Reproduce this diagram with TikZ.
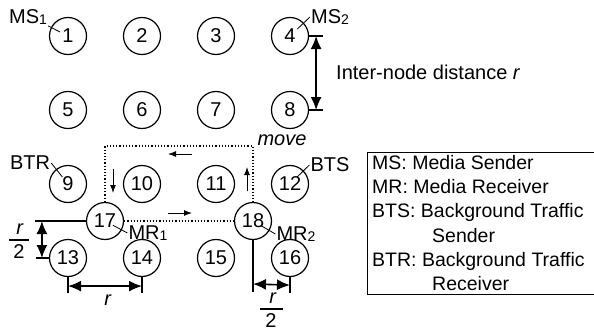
\documentclass[tikz,border=0pt]{standalone}
\usepackage{fontspec}
\setmainfont{Liberation Sans}
\usetikzlibrary{positioning,calc,arrows.meta}

\newcommand{\idx}[1]{\raisebox{-1.5pt}{\fontsize{14}{14}\selectfont #1}}

\tikzset{
  mnode/.style={draw, circle, line width=1.2pt, minimum size=37pt, inner sep=0pt, font=\fontsize{20}{22}\selectfont},
  tag/.style={inner sep=1pt, font=\fontsize{20}{22}\selectfont},
  leader/.style={line width=0.8pt},
  dimline/.style={line width=1.2pt},
  fracline/.style={line width=1.1pt},
  dimarrow/.style={line width=1.6pt, {Latex[length=13pt,width=11pt]}-{Latex[length=13pt,width=11pt]}},
  movearrow/.style={line width=1pt, -{Latex[length=8pt,width=6pt]}},
  movepath/.style={line width=1.2pt, dotted},
}

\begin{document}
\begin{tikzpicture}[x=1pt, y=-1pt, >=latex]
\useasboundingbox (0,0) rectangle (594,332);

% grid of nodes
\foreach \row in {0,...,3}
  \foreach \col in {0,...,3} {
    \pgfmathtruncatemacro\n{4*\row+\col+1}
    \node[mnode] (n\n) at ({68+74*\col},{36+74*\row}) {\n};
  }
\node[mnode] (n17) at (105,221) {17};
\node[mnode] (n18) at (253,221) {18};

% role labels
\node[tag] (ms1) at (28,17) {MS\idx{1}};
\node[tag] (ms2) at (330,17) {MS\idx{2}};
\node[tag] (btr) at (30,163) {BTR};
\node[tag] (bts) at (330,165) {BTS};
\node[tag] (mr1) at (148,233) {MR\idx{1}};
\node[tag] (mr2) at (296,234) {MR\idx{2}};
\draw[leader, shorten >=9pt] (ms1.south east) -- (n1.center);
\draw[leader, shorten >=10pt] (ms2.west) -- (n4.center);
\draw[leader, shorten >=9pt] (btr.east) -- (n9.center);
\draw[leader, shorten >=10pt] (bts.west) -- (n12.center);
\draw[leader, shorten <=9pt] (n17.center) -- (mr1.west);
\draw[leader, shorten <=9pt] (n18.center) -- (mr2.west);

% movement path
\draw[movepath] (n17.north) -- ++(0,-56) -| (n18.north);
\draw[movepath] (n17.east) -- (n18.west);
\draw[movearrow] (192,154) -- (168,154);
\draw[movearrow] (113,169) -- (113,193);
\draw[movearrow] (168,213) -- (192,213);
\draw[movearrow] (247,191) -- (247,167);
\node[tag, font=\fontsize{20}{22}\selectfont\itshape] (move) at (282,140) {move};

% inter-node distance
\draw[dimline] (n4.east) -- ++(14,0);
\draw[dimline] (n8.east) -- ++(14,0);
\draw[dimarrow] ($(n4.east)+(7,0)$) -- ($(n8.east)+(7,0)$);
\node[tag, anchor=west] (dist) at (335,72) {Inter-node distance \textit{r}};

% r/2 on the left
\draw[dimline] (n17.west) -- ++(-51,0);
\draw[dimline] (n13.west) -- ++(-13,0);
\draw[dimarrow] ($(n17.west)+(-44,0)$) -- ($(n13.west)+(-7,0)$);
\node[tag] (halfLr) at (20,229) {\textit{r}};
\node[tag] (halfL2) at (19,252) {2};
\draw[fracline] (9,240) -- (29,240);

% r at the bottom
\draw[dimline] (n13.south) -- ++(0,16);
\draw[dimline] (n14.south) -- ++(0,16);
\draw[dimarrow] ($(n13.south)+(0,9)$) -- ($(n14.south)+(0,9)$);
\node[tag] (rbot) at (108,300) {\textit{r}};

% r/2 on the right
\draw[dimline] (n18.south) -- (253,292);
\draw[dimline] (n16.south) -- ++(0,16);
\draw[dimarrow] (253,284) -- ($(n16.south)+(0,8)$);
\node[tag] (halfRr) at (273,298) {\textit{r}};
\node[tag] (halfR2) at (271,321) {2};
\draw[fracline] (260,309) -- (283,309);

% legend
\draw[line width=1pt] (596,152) -| (367,294) -- (596,294);
\node[tag, anchor=north west, align=left, font=\fontsize{19.5}{24.3}\selectfont] (legend) at (371,154)
  {MS: Media Sender\\
   MR: Media Receiver\\
   BTS: Background Traffic\\
   \hspace*{60pt}Sender\\
   BTR: Background Traffic\\
   \hspace*{60pt}Receiver};

\end{tikzpicture}
\end{document}
